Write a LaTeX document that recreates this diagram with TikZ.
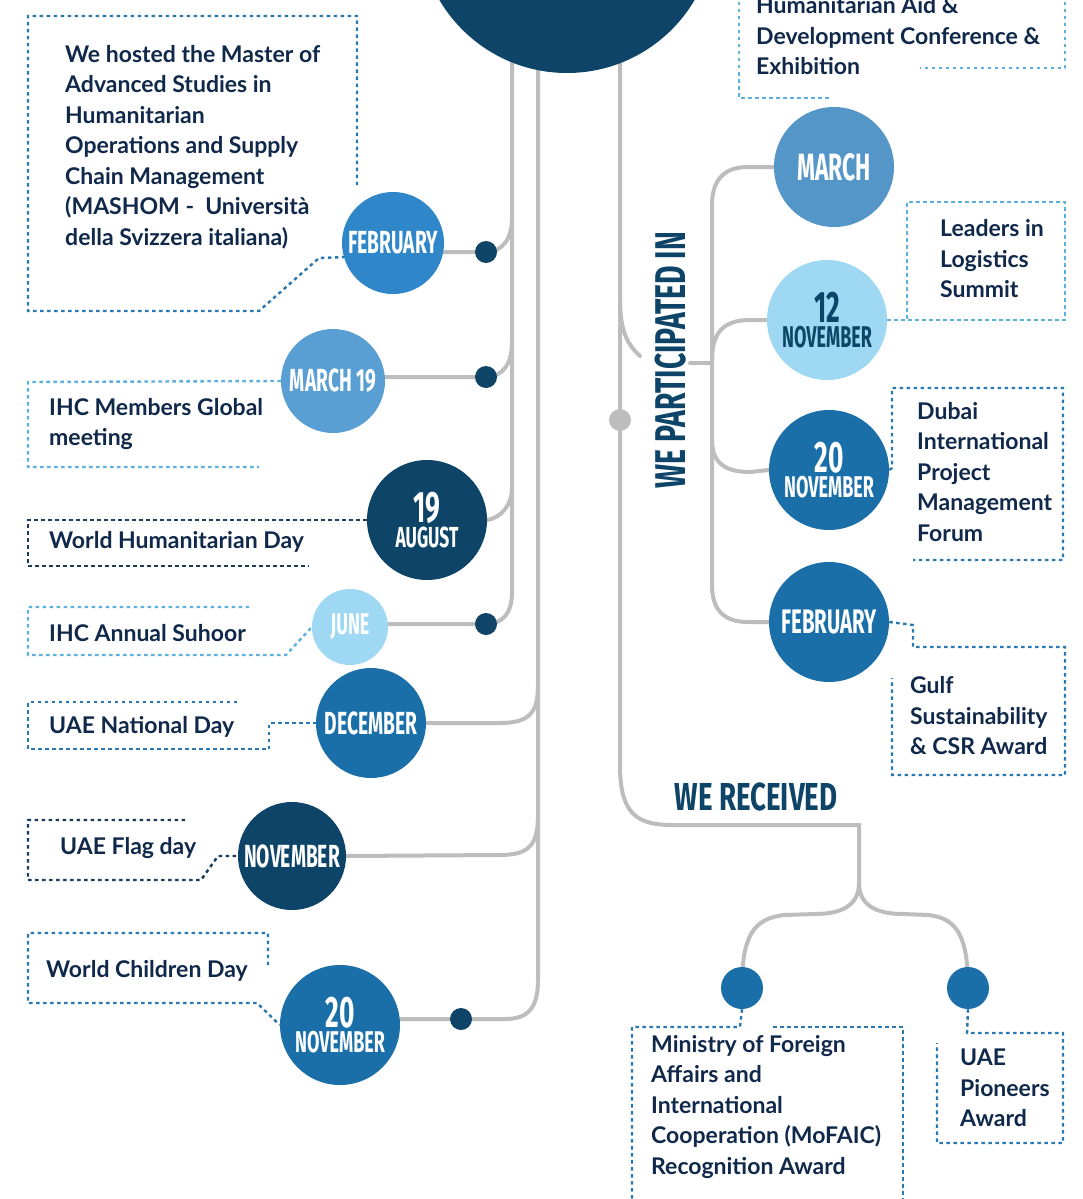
\documentclass[tikz,border=0pt]{standalone}
\usepackage{fontspec}
\usepackage{graphicx}
\setmainfont{Lato}
\newfontfamily\condf{Fira Sans}
\usetikzlibrary{backgrounds}
\definecolor{navy}{HTML}{0D4468}
\definecolor{midblue}{HTML}{1B6FA8}
\definecolor{febblue}{HTML}{2F86C8}
\definecolor{mtblue}{HTML}{5A9FD4}
\definecolor{marblue}{HTML}{5596C9}
\definecolor{lightblue}{HTML}{9ED8F3}
\definecolor{txt}{HTML}{10284A}
\definecolor{lgrey}{HTML}{BDBDBD}
\definecolor{dotlight}{HTML}{5CB0DE}
\definecolor{dotmid}{HTML}{2A78B0}
\definecolor{dotdark}{HTML}{1A3D5C}
\newcommand\clab[2]{\scalebox{0.6}[1]{\condf\bfseries\fontsize{#1}{#1}\selectfont #2}}
\newcommand\hlab[3]{\scalebox{#1}[1]{\condf\bfseries\fontsize{#2}{#2}\selectfont #3}}
\tikzset{
  circ/.style={circle, inner sep=0pt, text=white, align=center, font=\fontsize{26}{25}\selectfont},
  trunk/.style={draw=lgrey, line width=4pt, line cap=round},
  dotbox/.style={line width=2.4pt, dash pattern=on 3.5pt off 3.5pt},
  lbl/.style={font=\fontsize{23}{30.5}\selectfont\bfseries, text=txt, align=left, inner sep=0pt, anchor=west},
  knob/.style={circle, fill=navy, minimum size=22pt, inner sep=0pt},
  award/.style={circle, fill=midblue, minimum size=42pt, inner sep=0pt},
  headline/.style={text=navy, inner sep=0pt}
}
\begin{document}
\begin{tikzpicture}[x=1pt,y=-1pt]
\useasboundingbox (0,0) rectangle (1082,1199);
\clip (0,0) rectangle (1082,1199);

% big circle
\node[circle, fill=navy, minimum size=296pt, inner sep=0pt] (big) at (567,-75) {};

% left circles
\node[circ, fill=febblue, minimum size=102pt] (feb1) at (393,243) {\clab{32}{FEBRUARY}};
\node[circ, fill=mtblue, minimum size=104pt] (mar19) at (333,381) {\clab{32}{MARCH 19}};
\node[circ, fill=navy, minimum size=120pt] (aug19) at (427,520) {\clab{44}{19}\\\clab{29}{AUGUST}};
\node[circ, fill=lightblue, minimum size=76pt] (jun) at (350,627) {\clab{30}{JUNE}};
\node[circ, fill=midblue, minimum size=110pt] (dec) at (371,723) {\clab{32}{DECEMBER}};
\node[circ, fill=navy, minimum size=108pt] (nov1) at (292,856) {\clab{32}{NOVEMBER}};
\node[circ, fill=midblue, minimum size=120pt] (nov20L) at (340,1025) {\clab{44}{20}\\\clab{30}{NOVEMBER}};

% right circles
\node[circ, fill=marblue, minimum size=120pt] (marR) at (834,167) {\clab{38}{MARCH}};
\node[circ, fill=lightblue, minimum size=120pt, text=navy] (nov12) at (827,320) {\clab{44}{12}\\\clab{30}{NOVEMBER}};
\node[circ, fill=midblue, minimum size=120pt] (nov20R) at (829,470) {\clab{44}{20}\\\clab{30}{NOVEMBER}};
\node[circ, fill=midblue, minimum size=120pt] (febR) at (829,622) {\clab{34}{FEBRUARY}};

% knobs
\node[knob] (dA) at (486,252) {};
\node[knob] (dB) at (486,377) {};
\node[knob] (dC) at (486,624) {};
\node[knob] (dD) at (461,1019) {};
\node[circle, fill=lgrey, minimum size=22pt, inner sep=0pt] (gdot) at (620,420) {};
\node[award] (aw1) at (742,988) {};
\node[award] (aw2) at (968,988) {};

% headings
\node[headline, rotate=90] (part) at (671,360) {\hlab{0.66}{43}{WE PARTICIPATED IN}};
\node[headline] (recv) at (756,797) {\hlab{0.71}{39}{WE RECEIVED}};

\coordinate (Atop) at (512,40);
\coordinate (Btop) at (538,40);
\coordinate (Ctop) at (620,40);
\coordinate (fork) at (859,883);
\coordinate (stubL) at (690,363);
\coordinate (stubR) at (712,363);

\begin{scope}[on background layer]
\fill[white] (0,0) rectangle (1082,1199);
% line A
\draw[trunk] (Atop) -- (512,592) .. controls (512,614) and (502,624) .. (dC.center) -- (jun.center |- dC);
\draw[trunk] (feb1.center |- dA) -- (dA.center) .. controls (503,252) and (512,238) .. (512,218);
\draw[trunk] (mar19.center |- dB) -- (dB.center) .. controls (503,377) and (512,363) .. (512,343);
\draw[trunk] (aug19.east) .. controls (500,518) and (512,506) .. (512,488);
% line B
\draw[trunk] (Btop) -- (538,980) .. controls (538,1008) and (528,1019) .. (505,1019) -- (dD.center) -- (nov20L.center |- dD);
\draw[trunk] (dec.east) -- (500,723) .. controls (530,723) and (538,712) .. (538,685);
\draw[trunk] (nov1.east) -- (500,855) .. controls (530,855) and (538,844) .. (538,815);
% line C
\draw[trunk] (Ctop) -- (620,765) .. controls (620,812) and (635,825) .. (672,825) -- (859,825) -- (fork);
\draw[trunk] (fork) .. controls (859,905) and (842,914) .. (815,914) -- (785,915) .. controls (752,918) and (742,938) .. (aw1.center);
\draw[trunk] (fork) .. controls (859,905) and (876,914) .. (903,914) -- (928,915) .. controls (958,918) and (968,938) .. (aw2.center);
\draw[trunk] (620,300) .. controls (620,332) and (628,345) .. (640,356);
\draw[trunk] (stubL) -- (stubR);
% bracket
\draw[trunk] (marR.west) -- (748,167) .. controls (724,167) and (712,180) .. (712,205) -- (712,585) .. controls (712,610) and (724,622) .. (748,622) -- (febR.west);
\draw[trunk] (712,360) .. controls (712,332) and (724,320) .. (750,320) -- (nov12.west);
\draw[trunk] (712,440) .. controls (712,462) and (724,472) .. (750,472) -- (nov20R.west);
\end{scope}

% texts
\node[lbl] (tmash) at (65,147) {We hosted the Master of\\Advanced Studies in\\Humanitarian\\Operations and Supply\\Chain Management\\(MASHOM -\ \ Università\\della Svizzera italiana)};
\node[lbl] (tihc) at (49,424) {IHC Members Global\\meeting};
\node[lbl] (twhd) at (49,542) {World Humanitarian Day};
\node[lbl] (tsuh) at (49,633) {IHC Annual Suhoor};
\node[lbl] (tnat) at (49,727) {UAE National Day};
\node[lbl] (tflag) at (60,848) {UAE Flag day};
\node[lbl] (tchild) at (46,971) {World Children Day};
\node[lbl] (ttop) at (756,36) {Humanitarian Aid \&\\Development Conference \&\\Exhibition};
\node[lbl] (tlead) at (940,259) {Leaders in\\Logistics\\Summit};
\node[lbl] (tdubai) at (917,472) {Dubai\\International\\Project\\Management\\Forum};
\node[lbl] (tgulf) at (910,716) {Gulf\\Sustainability\\\& CSR Award};
\node[lbl] (tmof) at (651,1107) {Ministry of Foreign\\Affairs and\\International\\Cooperation (MoFAIC)\\Recognition Award};
\node[lbl] (tpion) at (960,1088) {UAE\\Pioneers\\Award};

% dotted boxes
\draw[dotbox, draw=dotmid] (357,185) -- (357,16) -- (28,16) -- (28,311) -- (259,311) -- (319,258) -- (feb1.196);
\draw[dotbox, draw=dotlight] (mar19.west) -- (28,382) -- (28,467) -- (259,467);
\draw[dotbox, draw=dotdark] (aug19.west) -- (28,520) -- (28,566) -- (309,566);
\draw[dotbox, draw=dotlight] (249,607) -- (28,607) -- (28,655) -- (286,655) -- (jun.west);
\draw[dotbox, draw=dotmid] (237,702) -- (28,702) -- (28,749) -- (269,749) -- (269,723) -- (dec.west);
\draw[dotbox, draw=dotdark] (185,820) -- (28,820) -- (28,880) -- (201,880) -- (218,856) -- (nov1.west);
\draw[dotbox, draw=dotmid] (268,965) -- (268,933) -- (28,933) -- (28,1003) -- (257,1003) -- (nov20L.west);
\draw[dotbox, draw=dotlight] (739,-5) -- (739,98) -- (832,98);
\draw[dotbox, draw=dotlight] (1065,-5) -- (1065,68) -- (920,68);
\draw[dotbox, draw=dotlight] (nov12.east) -- (907,320) -- (1065,320) -- (1065,202) -- (907,202) -- (907,320);
\draw[dotbox, draw=dotmid] (nov20R.east) -- (892,468) -- (892,388) -- (1063,388) -- (1063,560) -- (913,560);
\draw[dotbox, draw=dotmid] (febR.east) -- (913,625) -- (913,647) -- (1065,647) -- (1065,775) -- (892,775) -- (892,678);
\draw[dotbox, draw=dotmid] (aw1.south) -- (740,1027) -- (632,1027) -- (632,1205);
\draw[dotbox, draw=dotmid] (773,1027) -- (903,1027) -- (903,1205);
\draw[dotbox, draw=dotmid] (aw2.south) -- (967,1033) -- (1063,1033) -- (1063,1143) -- (937,1143) -- (937,1043);
\end{tikzpicture}
\end{document}
